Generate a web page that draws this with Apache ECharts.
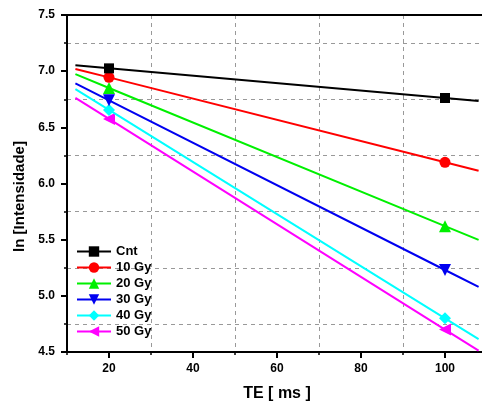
<!DOCTYPE html>
<html>
<head>
<meta charset="utf-8">
<script src="https://cdn.jsdelivr.net/npm/echarts@6/dist/echarts.min.js"></script>
<style>
html,body{margin:0;padding:0;background:#fff;}
#chart{width:482px;height:406px;}
</style>
</head>
<body>
<div id="chart"></div>
<script>
// Data
var seriesNames = ['Cnt', '10 Gy', '20 Gy', '30 Gy', '40 Gy', '50 Gy'];
var teMeasured = [20, 100];          // measured echo times (ms)
var teFitRange = [12, 108];          // extent of the fitted lines (ms)
var cntPoints  = [7.025, 6.761];
var gy10Points = [6.945, 6.189];
var gy20Points = [6.850, 5.620];
var gy30Points = [6.740, 5.230];
var gy40Points = [6.655, 4.800];
var gy50Points = [6.575, 4.700];
var cntFit  = [7.052, 6.735];
var gy10Fit = [7.020, 6.114];
var gy20Fit = [6.973, 5.498];
var gy30Fit = [6.891, 5.079];
var gy40Fit = [6.840, 4.614];
var gy50Fit = [6.763, 4.513];
var xMajorTicks = [20, 40, 60, 80, 100];
var colors  = ['#000000', '#ff0000', '#00f000', '#0000f0', '#00ffff', '#ff00ff'];
var symbols = ['rect', 'circle', 'triangle', 'triangle', 'diamond', 'triangle'];
var symbolRotations = [0, 0, 0, 180, 0, 90];
var symbolSizes = [10, 11, 12, 12, 12, 12];

var pointSets = [cntPoints, gy10Points, gy20Points, gy30Points, gy40Points, gy50Points];
var fitSets = [cntFit, gy10Fit, gy20Fit, gy30Fit, gy40Fit, gy50Fit];

var FONT = 'Liberation Sans, Arial, Helvetica, sans-serif';

var series = seriesNames.map(function (name, i) {
  var pts = pointSets[i], fit = fitSets[i];
  return {
    name: name,
    type: 'line',
    xAxisIndex: 0,
    yAxisIndex: 0,
    symbol: symbols[i],
    symbolSize: symbolSizes[i],
    symbolRotate: symbolRotations[i],
    color: colors[i],
    lineStyle: { color: colors[i], width: 2 },
    itemStyle: { color: colors[i] },
    animation: false,
    z: 10 - i,
    data: [
      { value: [teFitRange[0], fit[0]], symbol: 'none' },
      { value: [teMeasured[0], pts[0]] },
      { value: [teMeasured[1], pts[1]] },
      { value: [teFitRange[1], fit[1]], symbol: 'none' }
    ]
  };
});

var dashed = { color: '#999999', width: 1, type: [4, 4] };

var option = {
  animation: false,
  backgroundColor: '#ffffff',
  grid: { left: 67, right: -5, top: 15, bottom: 54, containLabel: false, outerBoundsMode: 'none' },
  legend: {
    orient: 'vertical',
    left: 76,
    top: 245,
    itemWidth: 34,
    itemHeight: 13,
    itemGap: 3,
    padding: 0,
    textStyle: { fontFamily: FONT, fontWeight: 'bold', fontSize: 13, color: '#000' },
    data: seriesNames
  },
  xAxis: [
    {
      type: 'value', position: 'bottom', min: 10, max: 110,
      name: 'TE [ ms ]', nameLocation: 'middle', nameGap: 34,
      nameTextStyle: { fontFamily: FONT, fontWeight: 'bold', fontSize: 16, color: '#000' },
      axisLine: { show: true, onZero: false, lineStyle: { color: '#000', width: 2 } },
      axisTick: { show: true, length: 6, customValues: xMajorTicks, lineStyle: { color: '#000', width: 2 } },
      axisLabel: { customValues: xMajorTicks, margin: 11, fontFamily: FONT, fontWeight: 'bold', fontSize: 12, color: '#000' },
      splitLine: { show: false }
    },
    {
      type: 'value', position: 'bottom', min: 10, max: 110, interval: 20,
      axisLine: { show: false, onZero: false },
      axisTick: { show: true, length: 3, lineStyle: { color: '#000', width: 1.5 } },
      axisLabel: { show: false },
      splitLine: { show: true, lineStyle: dashed }
    },
    {
      type: 'value', position: 'top', min: 10, max: 110,
      axisLine: { show: true, onZero: false, lineStyle: { color: '#000', width: 2 } },
      axisTick: { show: false },
      axisLabel: { show: false },
      splitLine: { show: false }
    }
  ],
  yAxis: [
    {
      type: 'value', position: 'left', min: 4.5, max: 7.5, interval: 0.5,
      name: 'ln [Intensidade]', nameLocation: 'middle', nameGap: 32,
      nameTextStyle: { fontFamily: FONT, fontWeight: 'bold', fontSize: 15, color: '#000', padding: [0, 26, 0, 0] },
      axisLine: { show: true, onZero: false, lineStyle: { color: '#000', width: 2 } },
      axisTick: { show: true, length: 6, lineStyle: { color: '#000', width: 2 } },
      minorTick: { show: true, splitNumber: 2, length: 3, lineStyle: { color: '#000', width: 1.5 } },
      axisLabel: {
        margin: 12, fontFamily: FONT, fontWeight: 'bold', fontSize: 12, color: '#000',
        formatter: function (v) { return v.toFixed(1); }
      },
      splitLine: { show: false },
      minorSplitLine: { show: true, lineStyle: dashed }
    }
  ],
  series: series
};

var chart = echarts.init(document.getElementById('chart'), null, { renderer: 'canvas' });
chart.setOption(option);
</script>
</body>
</html>
